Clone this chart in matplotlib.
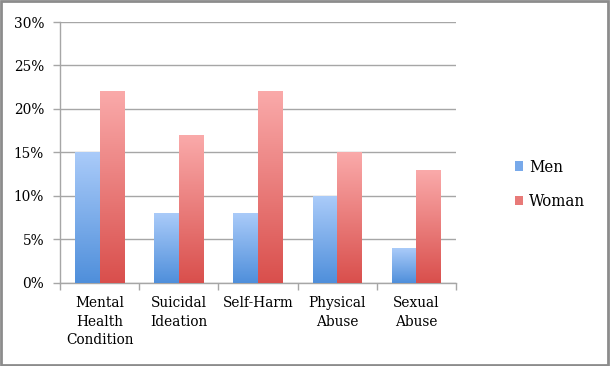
import matplotlib
matplotlib.use("Agg")
import matplotlib.pyplot as plt
import numpy as np
from matplotlib.patches import Patch, Rectangle
from matplotlib.colors import LinearSegmentedColormap

categories = ["Mental\nHealth\nCondition", "Suicidal\nIdeation", "Self-Harm", "Physical\nAbuse", "Sexual\nAbuse"]
men = [15, 8, 8, 10, 4]
woman = [22, 17, 22, 15, 13]
yticks = [0, 5, 10, 15, 20, 25, 30]
series_names = ["Men", "Woman"]

plt.rcParams['font.family'] = ['DejaVu Serif']
plt.rcParams['font.stretch'] = 'condensed'
plt.rcParams['font.size'] = 11

fig = plt.figure(figsize=(6.1, 3.66), dpi=100)
ax = fig.add_axes([60/610, 1-282.6/366, 396/610, (282.6-22)/366])

x = np.arange(len(categories))
w = 0.31
grid_c = "#a6a6a6"

men_cmap = LinearSegmentedColormap.from_list("m", ["#4f8fdb", "#aacbf9"])
wom_cmap = LinearSegmentedColormap.from_list("w", ["#d94f4c", "#faaaaa"])

b1 = ax.bar(x - w/2, men, w, color="none", edgecolor="none")
b2 = ax.bar(x + w/2, woman, w, color="none", edgecolor="none")
grad = np.linspace(0, 1, 256).reshape(-1, 1)
for bars, cmap in ((b1, men_cmap), (b2, wom_cmap)):
    for r in bars:
        x0, y0 = r.get_x(), r.get_y()
        ax.imshow(grad, extent=[x0, x0 + r.get_width(), y0, y0 + r.get_height()],
                  origin="lower", cmap=cmap, vmin=0, vmax=1, aspect="auto", zorder=3,
                  interpolation="bilinear")

ax.set_xlim(-0.5, len(categories) - 0.5)
ax.set_ylim(0, 30)
ax.set_yticks(yticks)
ax.set_yticklabels([f"{t}%" for t in yticks])
ax.yaxis.grid(True, color=grid_c, linewidth=1.0, zorder=0)
ax.set_axisbelow(True)

ax.set_xticks(x)
ax.set_xticklabels(categories, linespacing=1.4, va="top")
ax.set_xticks(np.arange(len(categories) + 1) - 0.5, minor=True)
ax.tick_params(axis="x", which="major", length=0, pad=10)
ax.tick_params(axis="x", which="minor", length=5, color=grid_c, width=1.0)
ax.tick_params(axis="y", length=5, color=grid_c, width=1.0, pad=6.5)

for s in ("top", "right"):
    ax.spines[s].set_visible(False)
for s in ("left", "bottom"):
    ax.spines[s].set_color(grid_c)
    ax.spines[s].set_linewidth(1.0)

handles = [Patch(facecolor="#78a9ea", edgecolor="none"), Patch(facecolor="#e87a78", edgecolor="none")]
fig.legend(handles, series_names, loc="center left", bbox_to_anchor=(515/610, 1-184.5/366),
           frameon=False, handlelength=0.5, handleheight=0.5, handletextpad=0.35,
           labelspacing=1.05, borderpad=0, borderaxespad=0, fontsize=12)

fig.patches.append(Rectangle((0.001, 0.003), 0.996, 0.995, transform=fig.transFigure,
                             fill=False, edgecolor="#8c8c8c", linewidth=2))

fig.savefig("out.png", dpi=100)
